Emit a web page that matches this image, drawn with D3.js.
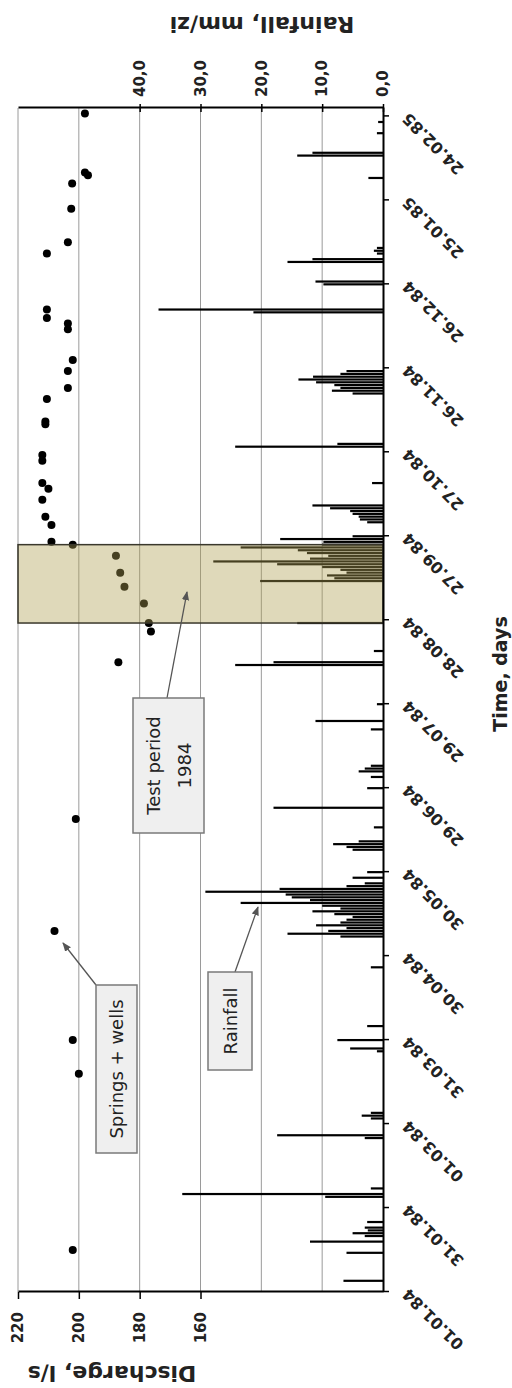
<!DOCTYPE html>
<html>
<head>
<meta charset="utf-8">
<script src="https://cdn.jsdelivr.net/npm/d3@7/dist/d3.min.js"></script>
<style>
  body { margin: 0; background: #fff; }
  text { font-family: "DejaVu Sans", sans-serif; }
</style>
</head>
<body>
<div id="chart"></div>
<script>
// chart is drawn upright (1388 wide x 512 high) then turned 90deg to fit the page
const W = 1388, H = 512;

// time axis labels (every 30 days)
const timeLabels = ["01.01.84", "31.01.84", "01.03.84", "31.03.84", "30.04.84", "30.05.84",
    "29.06.84", "29.07.84", "28.08.84", "27.09.84", "27.10.84", "26.11.84",
    "26.12.84", "25.01.85", "24.02.85"];
const dischargeTicks = [160, 180, 200, 220];
const rainTicks = [0, 10, 20, 30, 40];
const rainTickLabels = ["0,0", "10,0", "20,0", "30,0", "40,0"];

// daily rainfall, days counted from 01.01.84
const rainDay = [4, 14, 18, 20, 21, 22, 23, 25, 34, 35, 37, 55, 56, 62, 63, 64, 86, 87, 90, 95,
    116, 127, 128, 129, 130, 131, 132, 133, 134, 135, 136, 137, 138, 139, 140, 141, 142, 143, 144, 145,
    146, 148, 150, 158, 159, 160, 161, 166, 173, 180, 184, 186, 187, 188, 201, 204, 210, 224, 225, 229,
    239, 254, 255, 256, 257, 258, 259, 260, 261, 262, 263, 264, 265, 266, 267, 268, 269, 270,
    275, 276, 277, 278, 279, 280, 281, 289, 302, 303, 321, 322, 323, 324, 325, 326, 327, 328, 329,
    350, 351, 360, 361, 368, 369, 371, 372, 373, 398, 406, 407, 414, 418];
const rainMm = [6.5, 6, 12, 3, 5, 2.5, 3, 2.6, 9.5, 33, 2, 3, 17.4, 2, 3.5, 2, 1, 5.4, 7.5, 2.6,
    2, 7, 15.7, 9, 6, 11, 7, 6, 5, 8, 11.6, 7, 10, 23.4, 12, 15, 16, 29.2, 17, 6,
    3, 5, 2.6, 5, 6, 8.2, 4, 1.5, 18, 2.6, 2, 4, 3, 2, 2, 11.1, 1, 24.3, 18, 1.5,
    14.1, 20.2, 8, 9.2, 6, 7, 10, 17.4, 27.9, 12, 9, 12.5, 14, 23.4, 10, 9.8, 16.9, 5,
    2.6, 3.8, 4, 5, 5.4, 8.7, 11.6, 1.8, 24.3, 7.5, 5, 8.4, 7, 8, 11, 13.9, 11.5, 7, 6,
    21.3, 36.9, 9.8, 11.1, 15.7, 11.6, 1, 1.5, 1, 2.4, 14.1, 11.6, 1, 0.8];

// springs + wells discharge
const qDay = [15, 78, 90, 129, 169, 225, 236, 239, 246, 252, 257, 263, 267, 268, 274, 277, 283,
    287, 289, 297, 299, 310, 311, 319, 323, 329, 333, 344, 346, 348, 351, 371, 375, 387, 396,
    399, 400, 421];
const qLs = [202, 200, 202, 208, 201, 187, 176.3, 177, 178.6, 185, 186.4, 187.8, 202, 209, 209,
    211, 212, 210, 212, 212, 212, 211, 211, 210.5, 203.6, 203.6, 202, 203.6, 203.6, 210.5, 210.5,
    210.5, 203.6, 202.5, 202.2, 197, 198, 198];

const testStart = 239, testEnd = 267;

const t0 = new Date(1984, 0, 1);
const day = d => d3.timeDay.offset(t0, d);
const parse = d3.timeParse("%d.%m.%y");

const x = d3.scaleTime().domain([t0, day(423)]).range([96, 1280]);
const yQ = d3.scaleLinear().domain([100, 220]).range([383, 18]);
const yR = d3.scaleLinear().domain([0, 60]).range([383, 18]);

const svg = d3.select("#chart").append("svg")
    .attr("width", 512).attr("height", 1388);

svg.append("defs").append("marker")
    .attr("id", "arrow")
    .attr("viewBox", "0 0 10 10")
    .attr("refX", 9).attr("refY", 5)
    .attr("markerWidth", 7).attr("markerHeight", 7)
    .attr("orient", "auto")
    .append("path").attr("d", "M0,1L10,5L0,9z").attr("fill", "#555");

const g = svg.append("g").attr("transform", `translate(0,${W}) rotate(-90)`);

// gridlines
g.append("g").selectAll("line")
    .data([120, 140, 160, 180, 200, 220])
    .enter().append("line")
    .attr("x1", 96).attr("x2", 1280)
    .attr("y1", d => yQ(d)).attr("y2", d => yQ(d))
    .attr("stroke", "#9a9a9a").attr("stroke-width", 1);

// rainfall bars
g.append("g").selectAll("rect")
    .data(rainDay.map((d, i) => ({ d: d, v: rainMm[i] })))
    .enter().append("rect")
    .attr("x", d => x(day(d.d)) - 1.1)
    .attr("width", 2.2)
    .attr("y", d => yR(d.v))
    .attr("height", d => yR(0) - yR(d.v))
    .attr("fill", "#000");

// discharge points
g.append("g").selectAll("circle")
    .data(qDay.map((d, i) => ({ d: d, v: qLs[i] })))
    .enter().append("circle")
    .attr("cx", d => x(day(d.d)))
    .attr("cy", d => yQ(d.v))
    .attr("r", 4)
    .attr("fill", "#000");

// test period shading
g.append("rect")
    .attr("x", x(day(testStart)))
    .attr("width", x(day(testEnd)) - x(day(testStart)))
    .attr("y", 18).attr("height", 365)
    .attr("fill", "rgb(175,160,82)").attr("fill-opacity", 0.4)
    .attr("stroke", "#3a382c").attr("stroke-width", 1.5);

// axes
const axQ = g.append("g").attr("transform", "translate(96,0)")
    .call(d3.axisLeft(yQ).tickValues(dischargeTicks).tickSize(7).tickSizeOuter(0).tickPadding(13));
const axR = g.append("g").attr("transform", "translate(1280,0)")
    .call(d3.axisRight(yR).tickValues(rainTicks).tickSize(4).tickSizeOuter(0).tickPadding(7)
        .tickFormat((d, i) => rainTickLabels[i]));
axR.selectAll(".tick line").attr("x1", -4);
const axT = g.append("g").attr("transform", "translate(0,383)")
    .call(d3.axisBottom(x).tickValues(timeLabels.map(parse)).tickSize(6).tickSizeOuter(0)
        .tickFormat(d3.timeFormat("%d.%m.%y")));

[axQ, axR, axT].forEach(a => {
    a.select(".domain").attr("stroke", "#000").attr("stroke-width", 2);
    a.selectAll(".tick line").attr("stroke", "#000").attr("stroke-width", 1.5);
    a.selectAll("text").attr("fill", "#222").attr("font-size", 15).attr("font-weight", "bold")
        .style("font-family", "DejaVu Sans");
});
axT.selectAll("text")
    .attr("x", -15.6).attr("y", 15.6).attr("dy", "0.35em")
    .attr("text-anchor", "end")
    .attr("font-size", 16)
    .attr("transform", "rotate(-45)");

// axis titles
g.append("text")
    .attr("transform", "translate(15,112) rotate(-90)")
    .attr("text-anchor", "middle").attr("dominant-baseline", "central")
    .attr("font-size", 22).attr("font-weight", "bold").attr("fill", "#222")
    .text("Discharge, l/s");
g.append("text")
    .attr("transform", "translate(1364,262) rotate(-90)")
    .attr("text-anchor", "middle").attr("dominant-baseline", "central")
    .attr("font-size", 22).attr("font-weight", "bold").attr("fill", "#222")
    .text("Rainfall, mm/zi");
g.append("text")
    .attr("x", 714).attr("y", 500)
    .attr("text-anchor", "middle").attr("dominant-baseline", "central")
    .attr("font-size", 19).attr("font-weight", "bold").attr("fill", "#222")
    .text("Time, days");

// callouts
const notes = [
    { lines: ["Springs + wells"], box: [235, 96, 168, 41], from: [403, 96], to: [445, 63] },
    { lines: ["Rainfall"], box: [318, 208, 98, 44], from: [416, 235], to: [481, 258] },
    { lines: ["Test period", "1984"], box: [555, 133, 135, 71], from: [690, 167], to: [796, 187] }
];
notes.forEach(n => {
    g.append("line")
        .attr("x1", n.from[0]).attr("y1", n.from[1])
        .attr("x2", n.to[0]).attr("y2", n.to[1])
        .attr("stroke", "#555").attr("stroke-width", 1.3)
        .attr("marker-end", "url(#arrow)");
    g.append("rect")
        .attr("x", n.box[0]).attr("y", n.box[1])
        .attr("width", n.box[2]).attr("height", n.box[3])
        .attr("fill", "#efefef").attr("stroke", "#7a7a7a").attr("stroke-width", 1.5);
    const cy = n.box[1] + n.box[3] / 2;
    n.lines.forEach((t, i) => {
        g.append("text")
            .attr("x", n.box[0] + n.box[2] / 2)
            .attr("y", cy + (i - (n.lines.length - 1) / 2) * 31)
            .attr("text-anchor", "middle").attr("dominant-baseline", "central")
            .attr("font-size", 18).attr("fill", "#222")
            .text(t);
    });
});
</script>
</body>
</html>
